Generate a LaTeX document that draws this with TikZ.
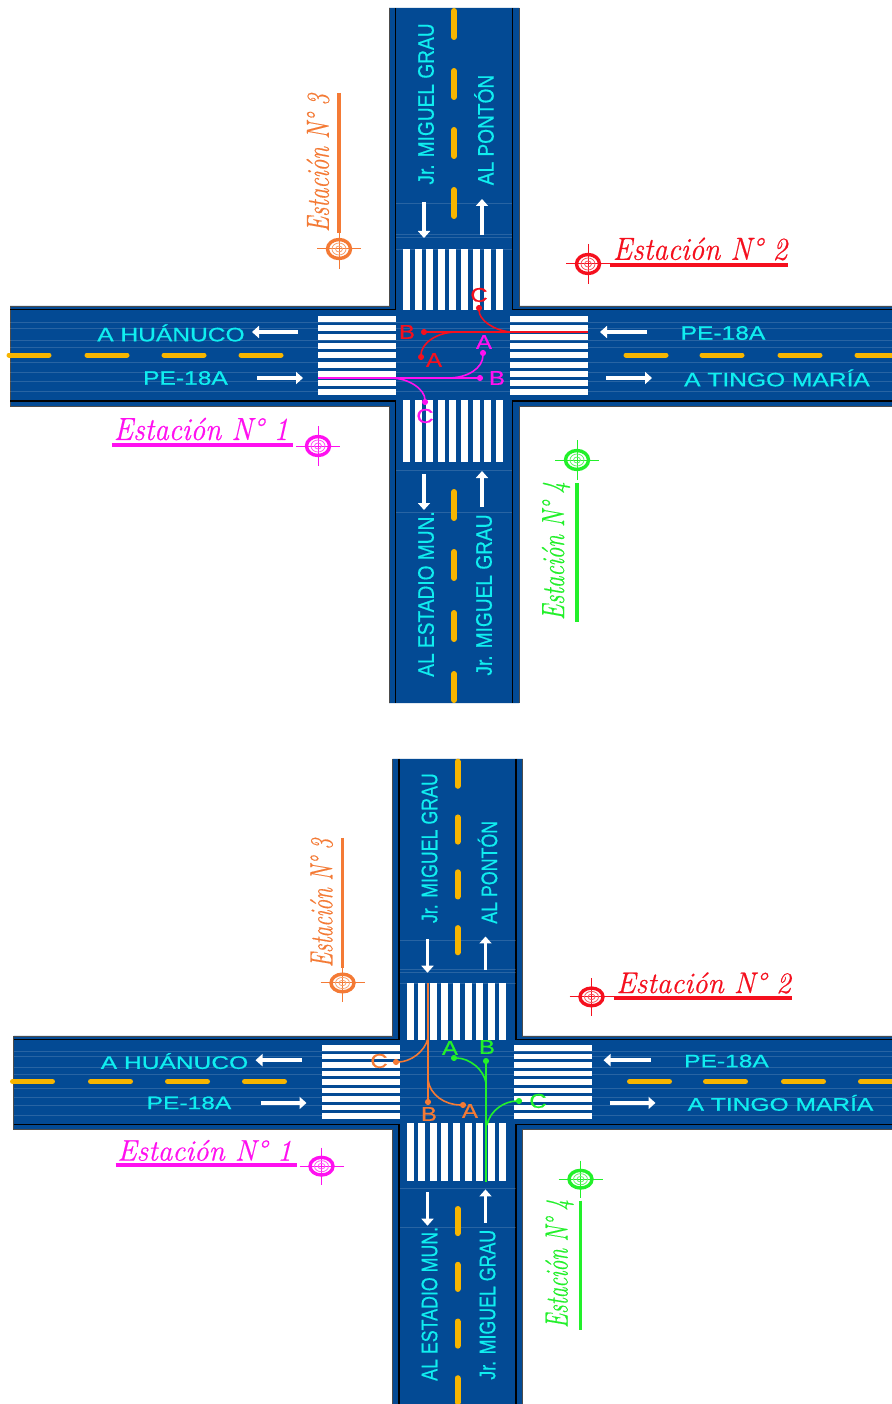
\documentclass[tikz,border=0pt]{standalone}
\usepackage{fontspec}
\setsansfont{Liberation Sans}[FakeBold=.6]
\newfontfamily\stationfont{Latin Modern Roman}[ItalicFeatures={FakeBold=.5}]
\usetikzlibrary{arrows.meta}
\definecolor{roadblue}{HTML}{034A94}
\definecolor{dashyellow}{HTML}{F7B500}
\definecolor{labelcyan}{HTML}{10EEF0}
\definecolor{stationorange}{HTML}{F47A35}
\definecolor{stationred}{HTML}{F5101E}
\definecolor{stationmagenta}{HTML}{FF10F0}
\definecolor{stationgreen}{HTML}{22F02A}
\tikzset{
  hlabel/.style={text=labelcyan,font=\fontsize{19.5}{19}\sffamily,xscale=1.26,inner sep=0pt},
  vlabel/.style={text=labelcyan,font=\fontsize{22.5}{22}\sffamily,rotate=90,xscale=.85,inner sep=0pt},
  flowlabel/.style={font=\fontsize{20}{20}\sffamily,xscale=1.2,inner sep=0pt},
  stationh/.style={font=\fontsize{32}{32}\stationfont\itshape,xscale=.91,inner sep=0pt},
  stationv/.style={font=\fontsize{32}{32}\stationfont\itshape,rotate=90,xscale=.72,inner sep=0pt},
  lane/.style={white,line width=3.6pt,-{Triangle[length=7pt,width=12pt]}},
  middle/.style={dashyellow,line cap=round},
  edge/.style={black,line width=1.4pt},
  streak/.style={white,opacity=.15,line width=.6pt},
  flow/.style={line width=1.6pt,-{Circle[length=6pt]}},
  bar/.style={line width=3.6pt},
}
% target mark: x, y, colour
\newcommand{\target}[3]{
  \draw[#3,line width=1pt] (#1-22,#2) -- (#1+22,#2) (#1,#2-20) -- (#1,#2+20);
  \draw[#3,line width=3.4pt] (#1,#2) ellipse (11.5 and 9.5);
  \draw[#3!70!white,line width=.8pt] (#1,#2) ellipse (7 and 6) (#1,#2) ellipse (3.5 and 3);
}
\newcommand{\crossroad}{
  \fill[roadblue] (389,8) -- (389,306) -- (10,306) -- (10,406) -- (389,406) -- (389,703)
    -- (519,703) -- (519,406) -- (895,406) -- (895,306) -- (519,306) -- (519,8) -- cycle;
  \draw[black!70,line width=.8pt] (389,8) -- (389,306) -- (10,306) -- (10,406) -- (389,406) -- (389,703);
  \draw[black!70,line width=.8pt] (519,8) -- (519,306) -- (895,306) (895,406) -- (519,406) -- (519,703);
  \draw[edge] (395.5,8) -- (395.5,309.5) -- (10,309.5);
  \draw[edge] (512.5,8) -- (512.5,309.5) -- (895,309.5);
  \draw[edge] (10,401) -- (395.5,401) -- (395.5,703);
  \draw[edge] (895,401) -- (512.5,401) -- (512.5,703);
  \foreach \y in {322,328,340,347,362,372,381,391}
    \draw[streak] (10,\y) -- (895,\y);
  \foreach \y in {203,234,237,249,470,512}
    \draw[streak] (396,\y) -- (512,\y);
  \foreach \i in {0,...,8} {
    \fill[white] (318,316+9.1*\i) rectangle (396,322+9.1*\i);
    \fill[white] (510,316+9.1*\i) rectangle (588,322+9.1*\i);
    \fill[white] (403+11.6*\i,249) rectangle (410+11.6*\i,310);
    \fill[white] (403+11.6*\i,400) rectangle (410+11.6*\i,462);
  }
  \foreach \y in {8,68,127,187,489,549,610,671}
    \draw[middle,line width=6pt] (454,\y+3) -- (454,\y+29);
  \foreach \x in {7,85,162,239,624,700,778,855}
    \draw[middle,line width=5pt] (\x+2,355) -- (\x+42,355);
  \draw[lane] (298,332) -- (252,332);
  \draw[lane] (257,378) -- (303,378);
  \draw[lane] (647,332) -- (600,332);
  \draw[lane] (606,378) -- (652,378);
  \draw[lane] (424,202) -- (424,238);
  \draw[lane] (482,235) -- (482,199);
  \draw[lane] (424,474) -- (424,510);
  \draw[lane] (482,507) -- (482,471);
  \node[hlabel] (huanuco) at (171,333) {A HUÁNUCO};
  \node[hlabel] (peleft) at (185.5,378) {PE-18A};
  \node[hlabel] (peright) at (723,333) {PE-18A};
  \node[hlabel] (tingo) at (777,378) {A TINGO MARÍA};
  \node[vlabel] (graunorth) at (426,104) {Jr. MIGUEL GRAU};
  \node[vlabel] (ponton) at (484,130) {AL PONTÓN};
  \node[vlabel] (estadio) at (426,594) {AL ESTADIO MUN.};
  \node[vlabel] (grausouth) at (484,595) {Jr. MIGUEL GRAU};
  \target{318}{446}{stationmagenta}
  \draw[stationmagenta,bar] (112,445) -- (293,445);
  \node[stationh,text=stationmagenta] (est1) at (201,429) {Estación N° 1};
  \target{588}{264}{stationred}
  \draw[stationred,bar] (610,265) -- (788,265);
  \node[stationh,text=stationred] (est2) at (700,249) {Estación N° 2};
  \target{339}{249}{stationorange}
  \draw[stationorange,bar] (339,93) -- (339,233);
  \node[stationv,text=stationorange] (est3) at (318,163) {Estación N° 3};
  \target{577}{460}{stationgreen}
  \draw[stationgreen,bar] (577,483) -- (577,622);
  \node[stationv,text=stationgreen] (est4) at (556,551) {Estación N° 4};
}
\begin{document}
\begin{tikzpicture}[x=1pt,y=-1pt,>={Stealth[length=2mm]},line cap=butt]
\useasboundingbox (0,0) rectangle (891,1404);
\fill[white] (0,0) rectangle (891,1404);
\crossroad
\begin{scope}[shift={(3.5,751.4)},yscale=.93,transform shape]
\crossroad
\end{scope}
% upper crossing
\draw[flow,stationred] (588,332) -- (421,332);
\draw[flow,stationred] (456.7,332) .. controls (436,332) and (421,344) .. (421,360);
\draw[flow,stationred] (510,332) .. controls (493,330) and (479,320) .. (479,305);
\draw[flow,stationmagenta] (318,378) -- (483,378);
\draw[flow,stationmagenta] (448,378) .. controls (468,378) and (483,368) .. (483,350);
\draw[flow,stationmagenta] (390,378) .. controls (410,378) and (425,390) .. (425,405);
\node[flowlabel,text=stationred] (redb) at (407,332) {B};
\node[flowlabel,text=stationred] (reda) at (434,360) {A};
\node[flowlabel,text=stationred] (redc) at (479,295) {C};
\node[flowlabel,text=stationmagenta] (magb) at (497,378) {B};
\node[flowlabel,text=stationmagenta] (maga) at (484,342) {A};
\node[flowlabel,text=stationmagenta] (magc) at (425,416) {C};
% lower crossing
\draw[flow,stationorange] (428,983) -- (428,1105);
\draw[flow,stationorange] (428,1038) .. controls (425,1052) and (410,1062) .. (393,1062);
\draw[flow,stationorange] (428,1080) .. controls (430,1095) and (445,1105) .. (466,1105);
\draw[flow,stationgreen] (486,1182) -- (486,1058);
\draw[flow,stationgreen] (486,1083) .. controls (484,1070) and (470,1058) .. (451,1058);
\draw[flow,stationgreen] (487,1125) .. controls (490,1110) and (505,1101) .. (522,1101);
\node[flowlabel,text=stationorange] (orc) at (379,1061) {C};
\node[flowlabel,text=stationorange] (orb) at (429,1114) {B};
\node[flowlabel,text=stationorange] (ora) at (470,1111) {A};
\node[flowlabel,text=stationgreen] (gra) at (450,1048) {A};
\node[flowlabel,text=stationgreen] (grb) at (487,1047) {B};
\node[flowlabel,text=stationgreen] (grc) at (538,1101) {C};
\end{tikzpicture}
\end{document}
